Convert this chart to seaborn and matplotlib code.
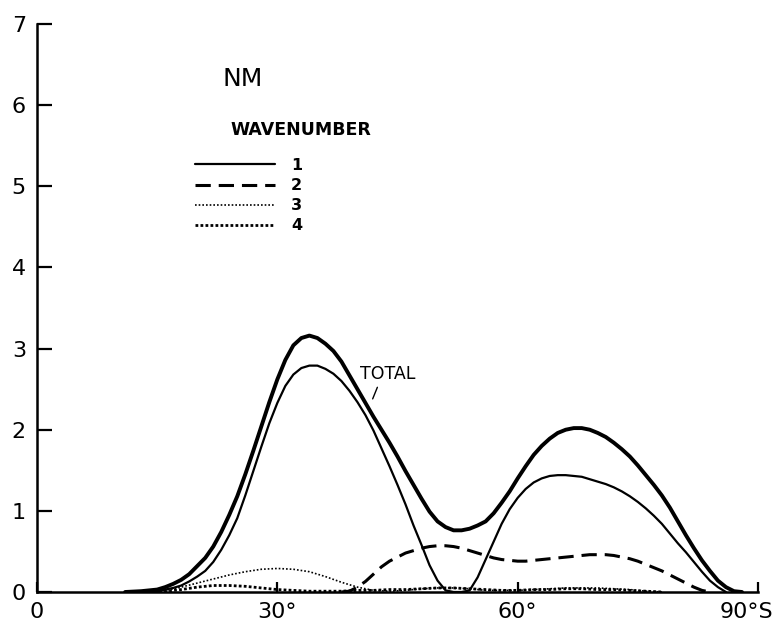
import matplotlib
matplotlib.use("Agg")
import matplotlib.pyplot as plt
import matplotlib.transforms as mtransforms
import seaborn as sns

# ---- data ----
total_lat = [11, 13, 15, 16, 17, 18, 19, 20, 21, 22, 23, 24, 25, 26, 27, 28, 29, 30,
             31, 32, 33, 34, 35, 36, 37, 38, 39, 40, 41, 42, 43, 44, 45, 46, 47, 48,
             49, 50, 51, 52, 53, 54, 55, 56, 57, 58, 59, 60, 61, 62, 63, 64, 65, 66,
             67, 68, 69, 70, 71, 72, 73, 74, 75, 76, 77, 78, 79, 80, 81, 82, 83, 84,
             85, 86, 87, 88]
total_val = [0.0, 0.01, 0.03, 0.06, 0.10, 0.15, 0.22, 0.32, 0.42, 0.56, 0.74, 0.95,
             1.18, 1.45, 1.74, 2.04, 2.34, 2.62, 2.86, 3.04, 3.13, 3.16, 3.13, 3.06,
             2.97, 2.84, 2.67, 2.50, 2.33, 2.16, 2.00, 1.84, 1.67, 1.49, 1.32, 1.15,
             0.99, 0.87, 0.80, 0.76, 0.76, 0.78, 0.82, 0.87, 0.97, 1.10, 1.24, 1.40,
             1.55, 1.69, 1.80, 1.89, 1.96, 2.00, 2.02, 2.02, 2.00, 1.96, 1.91, 1.84,
             1.76, 1.67, 1.56, 1.44, 1.32, 1.19, 1.04, 0.87, 0.70, 0.54, 0.39, 0.26,
             0.14, 0.06, 0.01, 0.0]

w1_lat = [13, 15, 16, 17, 18, 19, 20, 21, 22, 23, 24, 25, 26, 27, 28, 29, 30, 31, 32,
          33, 34, 35, 36, 37, 38, 39, 40, 41, 42, 43, 44, 45, 46, 47, 48, 49, 50, 51,
          52, 53, 54, 55, 56, 57, 58, 59, 60, 61, 62, 63, 64, 65, 66, 67, 68, 69, 70,
          71, 72, 73, 74, 75, 76, 77, 78, 79, 80, 81, 82, 83, 84, 85, 86]
w1_val = [0.0, 0.01, 0.03, 0.05, 0.08, 0.13, 0.19, 0.26, 0.37, 0.52, 0.70, 0.91, 1.19,
          1.49, 1.79, 2.08, 2.33, 2.54, 2.68, 2.76, 2.79, 2.79, 2.75, 2.69, 2.60, 2.48,
          2.34, 2.18, 1.99, 1.77, 1.55, 1.32, 1.08, 0.82, 0.58, 0.33, 0.14, 0.02, 0.0,
          0.0, 0.02, 0.18, 0.40, 0.62, 0.84, 1.02, 1.16, 1.27, 1.35, 1.40, 1.43, 1.44,
          1.44, 1.43, 1.42, 1.39, 1.36, 1.33, 1.29, 1.24, 1.18, 1.11, 1.03, 0.94, 0.84,
          0.72, 0.60, 0.49, 0.37, 0.25, 0.14, 0.06, 0.0]

w2_lat = [38, 39, 40, 41, 42, 43, 44, 45, 46, 47, 48, 49, 50, 51, 52, 53, 54, 55, 56,
          57, 58, 59, 60, 61, 62, 63, 64, 65, 66, 67, 68, 69, 70, 71, 72, 73, 74, 75,
          76, 77, 78, 79, 80, 81, 82, 83, 84]
w2_val = [0.0, 0.01, 0.06, 0.13, 0.22, 0.31, 0.38, 0.43, 0.48, 0.51, 0.54, 0.56, 0.57,
          0.57, 0.56, 0.54, 0.51, 0.48, 0.45, 0.42, 0.40, 0.39, 0.38, 0.38, 0.39, 0.40,
          0.41, 0.42, 0.43, 0.44, 0.45, 0.46, 0.46, 0.46, 0.45, 0.43, 0.41, 0.38, 0.34,
          0.30, 0.26, 0.21, 0.16, 0.11, 0.06, 0.02, 0.0]

w3_lat = [14, 16, 18, 20, 22, 24, 26, 28, 30, 32, 34, 36, 38, 40, 42, 44, 46, 48, 50,
          52, 54, 56, 58, 60, 62, 64, 66, 68, 70, 72, 74, 76, 78]
w3_val = [0.0, 0.02, 0.06, 0.11, 0.16, 0.21, 0.25, 0.28, 0.29, 0.28, 0.25, 0.19, 0.12,
          0.06, 0.02, 0.01, 0.02, 0.04, 0.05, 0.05, 0.04, 0.02, 0.02, 0.02, 0.03, 0.04,
          0.05, 0.05, 0.05, 0.04, 0.03, 0.01, 0.0]

w4_lat = [14, 16, 18, 20, 22, 24, 26, 28, 30, 32, 34, 36, 38, 40, 42, 44, 46, 48, 50,
          52, 54, 56, 58, 60, 62, 64, 66, 68, 70, 72, 74, 76, 78]
w4_val = [0.0, 0.01, 0.03, 0.06, 0.08, 0.08, 0.07, 0.05, 0.03, 0.02, 0.01, 0.01, 0.01,
          0.02, 0.02, 0.03, 0.03, 0.04, 0.05, 0.05, 0.04, 0.03, 0.02, 0.02, 0.03, 0.03,
          0.04, 0.04, 0.03, 0.03, 0.02, 0.01, 0.0]

legend_labels = ["1", "2", "3", "4"]
x_ticks = [0, 30, 60, 90]
x_ticklabels = ["0", "30°", "60°", "90°S"]
y_ticks = [0, 1, 2, 3, 4, 5, 6, 7]

# ---- style ----
sns.set_theme(style="ticks")
plt.rcParams["font.family"] = ["DejaVu Sans"]
plt.rcParams["text.color"] = "black"
plt.rcParams["axes.labelcolor"] = "black"
plt.rcParams["xtick.color"] = "black"
plt.rcParams["ytick.color"] = "black"

fig = plt.figure(figsize=(7.76, 6.21), dpi=100)
ax = fig.add_axes([37 / 776, 1 - 592 / 621, (758 - 37) / 776, (592 - 24) / 621])

sns.lineplot(x=w1_lat, y=w1_val, ax=ax, color="black", lw=1.6, linestyle="-")
sns.lineplot(x=w2_lat, y=w2_val, ax=ax, color="black", lw=2.2, linestyle=(0, (5, 2.6)))
sns.lineplot(x=w3_lat, y=w3_val, ax=ax, color="black", lw=1.2, linestyle=(0, (1, 1.2)))
sns.lineplot(x=w4_lat, y=w4_val, ax=ax, color="black", lw=2.0, linestyle=(0, (1, 0.8)))
sns.lineplot(x=total_lat, y=total_val, ax=ax, color="black", lw=2.8, linestyle="-")

ax.set_xlim(0, 90)
ax.set_ylim(0, 7)
ax.set_xticks(x_ticks)
ax.set_xticklabels(x_ticklabels)
ax.set_yticks(y_ticks)
ax.set_yticklabels([str(v) for v in y_ticks])
ax.set_xlabel("")
ax.set_ylabel("")

for s in ["top", "right"]:
    ax.spines[s].set_visible(False)
for s in ["left", "bottom"]:
    ax.spines[s].set_linewidth(1.8)
    ax.spines[s].set_color("black")

ax.tick_params(axis="y", direction="in", length=11, width=1.6, pad=8,
               labelsize=16, colors="black")
ax.tick_params(axis="x", direction="in", length=7, width=1.6, pad=7,
               labelsize=16, colors="black")

# shift the last x label slightly left so it fits like in the reference
last = ax.get_xticklabels()[-1]
last.set_transform(last.get_transform() +
                   mtransforms.ScaledTranslation(-12 / 100, 0, fig.dpi_scale_trans))

# legend
handles = ax.lines[:4]
leg = ax.legend(handles, legend_labels, loc="upper left",
                bbox_to_anchor=(195 / 776, 1 - 158 / 621),
                bbox_transform=fig.transFigure, frameon=False,
                handlelength=5.0, handletextpad=1.0, labelspacing=0.32,
                borderpad=0, borderaxespad=0,
                prop={"size": 11.5, "weight": "bold"})
for t in leg.get_texts():
    t.set_color("black")

fig.text(223 / 776, 1 - 79 / 621, "NM", fontsize=18, va="center", ha="left",
         color="black")
fig.text(230 / 776, 1 - 130 / 621, "WAVENUMBER", fontsize=12.5, fontweight="bold",
         va="center", ha="left", color="black")

ax.annotate("TOTAL", xy=(41.9, 2.38), xytext=(40.3, 2.69), fontsize=12.5,
            va="center", ha="left", color="black",
            arrowprops=dict(arrowstyle="-", lw=1, color="black",
                            shrinkA=1, shrinkB=0, relpos=(0.35, 0)))

fig.savefig("out.png", dpi=100, facecolor="white")
